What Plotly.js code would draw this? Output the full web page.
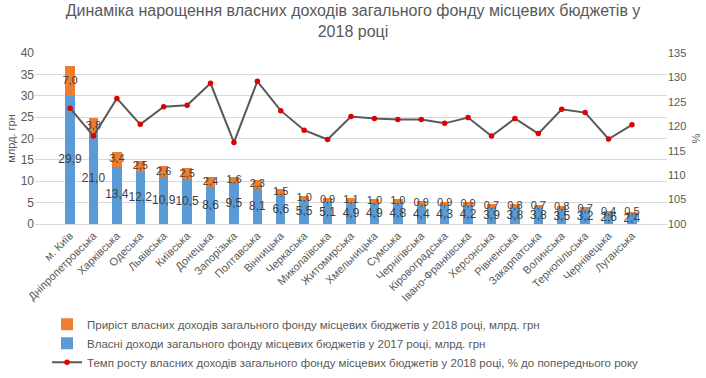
<!DOCTYPE html>
<html>
<head>
<meta charset="utf-8">
<script src="https://cdn.plot.ly/plotly-3.0.1.min.js"></script>
<style>html,body{margin:0;padding:0;background:#fff;}#chart{width:706px;height:378px;}</style>
</head>
<body>
<div id="chart"></div>
<script>
const regions = ["м. Київ","Дніпропетровська","Харківська","Одеська","Львівська","Київська","Донецька","Запорізька","Полтавська","Вінницька","Черкаська","Миколаївська","Житомирська","Хмельницька","Сумська","Чернігівська","Кіровоградська","Івано-Франківська","Херсонська","Рівненська","Закарпатська","Волинська","Тернопільська","Чернівецька","Луганська"];
const income2017 = [29.9,21.0,13.4,12.2,10.9,10.5,8.6,9.5,8.1,6.6,5.5,5.1,4.9,4.9,4.8,4.4,4.3,4.2,3.9,3.8,3.8,3.5,3.2,2.6,2.4];
const increase2018 = [7.0,3.8,3.4,2.5,2.6,2.5,2.4,1.6,2.3,1.5,1.0,0.9,1.1,1.0,1.0,0.9,0.9,0.9,0.7,0.8,0.7,0.8,0.7,0.4,0.5];
const growthRate = [123.7,118.0,125.7,120.4,124.0,124.3,128.8,116.7,129.2,123.2,119.2,117.3,122.0,121.6,121.4,121.4,120.6,121.8,118.0,121.6,118.5,123.5,122.8,117.4,120.3];

const seriesNames = [
  "Приріст власних доходів загального фонду місцевих бюджетів у 2018 році, млрд. грн",
  "Власні доходи загального фонду місцевих бюджетів у 2017 році, млрд. грн",
  "Темп росту власних доходів загального фонду місцевих бюджетів у 2018 році, % до попереднього року"
];

const fmt = v => v.toFixed(1).replace('.', ',');
const FONT = "Liberation Sans, Arial, sans-serif";
const GREY = "#595959";

const traces = [
  {type:'bar', x:regions, y:income2017, name:seriesNames[1], marker:{color:'#5b9bd5'}, legendrank:2, hoverinfo:'skip'},
  {type:'bar', x:regions, y:increase2018, name:seriesNames[0], marker:{color:'#ed7d31'}, legendrank:1, hoverinfo:'skip'},
  {type:'scatter', mode:'text', x:regions, y:income2017.map(v=>v/2), text:income2017.map(fmt),
   textfont:{family:FONT,size:12,color:'#404040'}, showlegend:false, hoverinfo:'skip'},
  {type:'scatter', mode:'text', x:regions, y:income2017.map((v,i)=>v+increase2018[i]/2), text:increase2018.map(fmt),
   textfont:{family:FONT,size:11,color:'#404040'}, showlegend:false, hoverinfo:'skip'},
  {type:'scatter', mode:'lines+markers', x:regions, y:growthRate, yaxis:'y2', name:seriesNames[2],
   line:{color:'#595959', width:2}, marker:{color:'#e00000', size:5.5}, legendrank:3, hoverinfo:'skip'}
];

const layout = {
  width:706, height:378,
  margin:{l:35, r:39, t:53, b:154, autoexpand:false},
  paper_bgcolor:'#fff', plot_bgcolor:'#fff',
  font:{family:FONT, color:GREY, size:11},
  title:{text:"Динаміка нарощення власних доходів загального фонду місцевих бюджетів у<br>2018 році",
         font:{family:FONT, size:16, color:GREY}, x:0.5, xanchor:'center', xref:'container',
         yref:'container', y:0.958, yanchor:'top'},
  barmode:'stack', bargap:0.6,
  showlegend:true,
  legend:{orientation:'v', x:0.019, xanchor:'left', y:-0.502, yanchor:'top', traceorder:'normal',
          font:{family:FONT, size:11.5, color:GREY}, tracegroupgap:0, itemwidth:30},
  xaxis:{type:'category', tickangle:-45, tickfont:{family:FONT,size:11,color:GREY}, showgrid:false,
         showline:true, linecolor:'#d9d9d9', ticks:'', automargin:false},
  yaxis:{range:[0,40], dtick:5, showgrid:true, gridcolor:'#d9d9d9', zeroline:false, ticks:'',
         tickfont:{family:FONT,size:12,color:GREY},
         title:{text:'млрд. грн', font:{family:FONT,size:11,color:GREY}, standoff:2}, automargin:false},
  yaxis2:{range:[100,135], dtick:5, overlaying:'y', side:'right', showgrid:false, zeroline:false, ticks:'',
          tickfont:{family:FONT,size:11,color:GREY},
          title:{text:'%', font:{family:FONT,size:11,color:GREY}, standoff:6}, automargin:false}
};

Plotly.newPlot('chart', traces, layout, {displayModeBar:false, staticPlot:true});
</script>
</body>
</html>
